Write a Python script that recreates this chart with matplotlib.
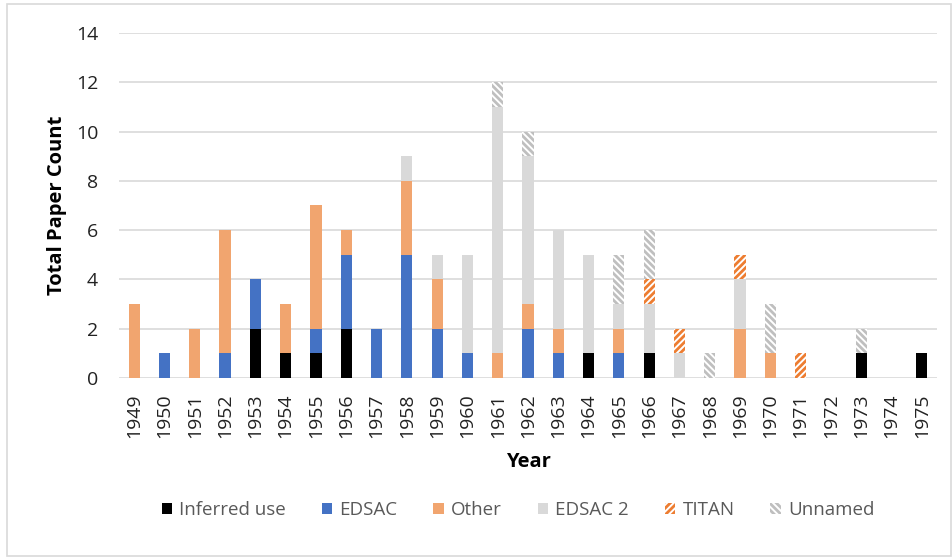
import numpy as np
import matplotlib
matplotlib.use("Agg")
from matplotlib import pyplot as plt
from matplotlib.patches import Rectangle

years = [str(y) for y in range(1949, 1976)]

inferred = [0, 0, 0, 0, 2, 1, 1, 2, 0, 0, 0, 0, 0, 0, 0, 1, 0, 1, 0, 0, 0, 0, 0, 0, 1, 0, 1]
edsac    = [0, 1, 0, 1, 2, 0, 1, 3, 2, 5, 2, 1, 0, 2, 1, 0, 1, 0, 0, 0, 0, 0, 0, 0, 0, 0, 0]
other    = [3, 0, 2, 5, 0, 2, 5, 1, 0, 3, 2, 0, 1, 1, 1, 0, 1, 0, 0, 0, 2, 1, 0, 0, 0, 0, 0]
edsac2   = [0, 0, 0, 0, 0, 0, 0, 0, 0, 1, 1, 4, 10, 6, 4, 4, 1, 2, 1, 0, 2, 0, 0, 0, 0, 0, 0]
titan    = [0, 0, 0, 0, 0, 0, 0, 0, 0, 0, 0, 0, 0, 0, 0, 0, 0, 1, 1, 0, 1, 0, 1, 0, 0, 0, 0]
unnamed  = [0, 0, 0, 0, 0, 0, 0, 0, 0, 0, 0, 0, 1, 1, 0, 0, 2, 2, 0, 1, 0, 2, 0, 0, 1, 0, 0]

plt.rcParams['font.family'] = ['Open Sans', 'DejaVu Sans']
plt.rcParams['hatch.linewidth'] = 2.0

fig = plt.figure(figsize=(9.53, 5.58), dpi=100)
# thin outer chart border
fig.patches.append(Rectangle((7 / 953, 2 / 558), 944 / 953, 552 / 558, transform=fig.transFigure,
                             fill=False, edgecolor='#d9d9d9', linewidth=1.2))
ax = fig.add_axes([0.1249, 0.3226, 0.8583, 0.6183])

x = np.arange(len(years))
w = 0.37
bottom = np.zeros(len(years))

series = [
    ("Inferred use", inferred, dict(color='black')),
    ("EDSAC", edsac, dict(color='#4472C4')),
    ("Other", other, dict(color='#F1A56F')),
    ("EDSAC 2", edsac2, dict(color='#D9D9D9')),
    ("TITAN", titan, dict(facecolor='white', edgecolor='#ED7D31', hatch='/////', linewidth=0)),
    ("Unnamed", unnamed, dict(facecolor='white', edgecolor='#BFBFBF', hatch='\\\\\\\\\\', linewidth=0)),
]
for name, vals, style in series:
    vals = np.array(vals)
    ax.bar(x, vals, w, bottom=bottom, label=name, zorder=3, **style)
    bottom += vals

ax.set_xlim(-0.5, len(years) - 0.5)
ax.set_ylim(0, 14)
ax.set_yticks(range(0, 15, 2))
ax.set_xticks(x)
ax.set_xticklabels(years, rotation=90)
ax.grid(axis='y', color='#d9d9d9', linewidth=1.2, zorder=0)
for s in ax.spines.values():
    s.set_visible(False)
ax.tick_params(length=0, labelsize=14, colors='#222222')
ax.tick_params(axis='y', pad=15)
ax.tick_params(axis='x', pad=11)

ax.set_xlabel("Year", fontsize=14.5, fontweight='bold', labelpad=10)
ax.set_ylabel("Total Paper Count", fontsize=14.5, fontweight='bold', labelpad=6)

leg = fig.legend(loc='center', bbox_to_anchor=(518 / 953, 1 - 510 / 558), ncol=6, frameon=False,
                 fontsize=13.5, handlelength=0.55, handleheight=0.55, handletextpad=0.4,
                 columnspacing=1.9)
for t in leg.get_texts():
    t.set_color('#595959')

fig.savefig("out.png", dpi=100)
